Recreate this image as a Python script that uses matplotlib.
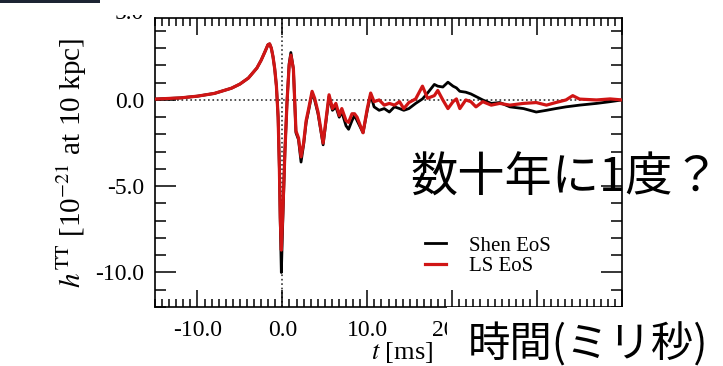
import numpy as np
import matplotlib
matplotlib.use("Agg")
import matplotlib.pyplot as plt
from matplotlib.patches import Rectangle
from matplotlib.ticker import MultipleLocator
from matplotlib.transforms import offset_copy

# gravitational wave strain
t_ms = [-15.0, -12.0, -10.0, -8.0, -6.0, -5.0, -4.0, -3.0, -2.5, -2.0, -1.7, -1.5,
        -1.3, -1.1, -0.9, -0.7, -0.5, -0.35, -0.25, -0.12, 0.05, 0.3, 0.55, 0.8,
        1.0, 1.3, 1.6, 1.9, 2.2, 2.5, 2.8, 3.1, 3.5, 3.8, 4.2, 4.8, 5.5, 5.9,
        6.3, 6.7, 7.0, 7.5, 7.8, 8.2, 8.5, 8.8, 9.5, 10.0, 10.4, 10.8, 11.4, 12.0,
        12.6, 13.2, 13.8, 14.3, 14.9, 15.7, 16.5, 17.1, 17.9, 18.3, 18.9, 19.5,
        20.1, 20.5, 20.9, 21.6, 22.2, 22.8, 23.6, 24.6, 25.6, 26.8, 28.4, 29.9,
        31.1, 32.2, 33.4, 34.2, 35.0, 37.0, 38.6, 40.0]
h_shen = [0.05, 0.12, 0.22, 0.38, 0.68, 0.92, 1.27, 1.85, 2.30, 2.85, 3.20, 3.25,
          3.00, 2.50, 1.80, 0.80, -1.0, -4.0, -7.0, -10.0, -7.0, -3.0, -0.1, 2.1,
          2.75, 1.8, -1.9, -2.3, -3.6, -2.6, -1.3, -0.6, 0.4, 0.0, -0.8, -2.6, 0.2, -0.6,
          -0.4, -1.0, -0.7, -1.5, -1.7, -1.2, -0.9, -1.2, -1.9, -0.6, 0.3, -0.4, -0.6, -0.5,
          -0.7, -0.4, -0.5, -0.6, -0.5, -0.2, 0.06, 0.4, 0.9, 0.8, 0.75, 1.03,
          0.8, 0.7, 0.5, 0.45, 0.35, 0.2, 0.0, -0.2, -0.15, -0.4, -0.5, -0.7,
          -0.6, -0.5, -0.4, -0.35, -0.3, -0.2, -0.1, 0.0]
h_ls = [0.05, 0.12, 0.22, 0.38, 0.68, 0.92, 1.27, 1.85, 2.30, 2.85, 3.20, 3.25,
        3.00, 2.50, 1.80, 0.80, -1.0, -4.0, -6.8, -8.7, -6.6, -3.0, -0.1, 2.0,
        2.6, 1.8, -1.8, -2.2, -3.3, -2.5, -1.2, -0.5, 0.5, 0.1, -0.7, -2.5, 0.3, -0.5,
        -0.2, -0.9, -0.5, -1.2, -1.3, -0.8, -0.8, -1.0, -1.9, -0.5, 0.4, -0.1, 0.0, -0.3,
        -0.2, -0.3, -0.1, -0.5, -0.15, 0.06, 0.8, 0.1, 0.25, 0.55, 0.0, -0.5,
        -0.1, 0.06, -0.5, 0.0, -0.1, -0.4, -0.1, -0.3, -0.2, -0.3, -0.2, -0.15,
        -0.3, -0.15, 0.0, 0.25, 0.05, 0.0, 0.06, 0.0]
series_names = ["Shen EoS", "LS EoS"]
x_major = [-10, 0, 10, 20, 30, 40]
x_labels = ["-10.0", "0.0", "10.0", "20.0", "", ""]   # 30 and 40 sit under the slide box
y_major = [-10, -5, 0]
y_labels = ["-10.0", "-5.0", "0.0"]

plt.rcParams['font.family'] = ['Liberation Serif', 'DejaVu Serif']
plt.rcParams['mathtext.fontset'] = 'stix'
plt.rcParams['axes.unicode_minus'] = False

W, H = 723, 366
fig = plt.figure(figsize=(7.23, 3.66), dpi=100)
ax = fig.add_axes([155/W, 1-307/H, (622-155)/W, (307-18)/H])

ax.axhline(0, color='#333333', ls=':', lw=1.2, zorder=1)
ax.axvline(0, color='#333333', ls=':', lw=1.2, zorder=1)
ax.plot(t_ms, h_shen, color='black', lw=2.0, label=series_names[0], zorder=2)
ax.plot(t_ms, h_ls, color='#d01515', lw=2.3, label=series_names[1], zorder=3)

ax.set_xlim(-15, 40)
ax.set_ylim(-12, 4.75)
ax.set_xticks(x_major, x_labels)
ax.set_yticks(y_major, y_labels)
ax.xaxis.set_minor_locator(MultipleLocator(10/12))
ax.yaxis.set_minor_locator(MultipleLocator(1))
ax.tick_params(which='both', direction='in', top=True, right=True, labelsize=17, width=1.1)
ax.tick_params(axis='y', which='major', length=15, pad=8)
ax.tick_params(axis='y', which='minor', length=8)
ax.tick_params(axis='x', which='major', length=12, pad=9)
ax.tick_params(axis='x', which='minor', length=6)
for s in ax.spines.values():
    s.set_linewidth(1.2)
# the 5.0 label sits just above the cropped top edge
lab_tr = offset_copy(ax.get_yaxis_transform(), fig=fig, x=-8, y=0, units='points')
ax.text(0, 5.0, '5.0', transform=lab_tr, ha='right', va='center',
        fontsize=17, clip_on=False)
ax.set_ylabel(r'$h^{\mathrm{TT}}$ [10$^{-21}$ at 10 kpc]', fontsize=21, labelpad=4)
ax.set_xlabel(r'$t$ [ms]', fontsize=19, labelpad=4)
ax.xaxis.set_label_coords((402-155)/467, -0.115, transform=ax.transAxes)
ax.xaxis.label.set_va('top')

ax.legend(loc='upper left', bbox_to_anchor=((425-155)/467, (307-236)/289),
          frameon=False, fontsize=15, handlelength=1.0, handletextpad=1.1,
          borderpad=0, borderaxespad=0, labelspacing=0.05)

# slide overlay pieces
fig.patches.append(Rectangle((0, 1-15/H), 155/W, 15/H, transform=fig.transFigure,
                             facecolor='white', edgecolor='none', zorder=5))
fig.patches.append(Rectangle((0, 1-2.5/H), 100/W, 2.5/H, transform=fig.transFigure,
                             facecolor='#1c2433', edgecolor='none', zorder=6))
fig.patches.append(Rectangle((447/W, 0), 1-447/W, 59.5/H, transform=fig.transFigure,
                             facecolor='white', edgecolor='none', zorder=5))
cjk = ['Noto Sans CJK JP', 'DejaVu Sans']
fig.text(410/W, 1-178/H, '数十年に1度？', family=cjk, fontsize=34,
         ha='left', va='center', zorder=7)
fig.text(468/W, 1-345/H, '時間(ミリ秒)', family=cjk, fontsize=30.5,
         ha='left', va='center', zorder=7)

fig.savefig('out.png', dpi=100)
